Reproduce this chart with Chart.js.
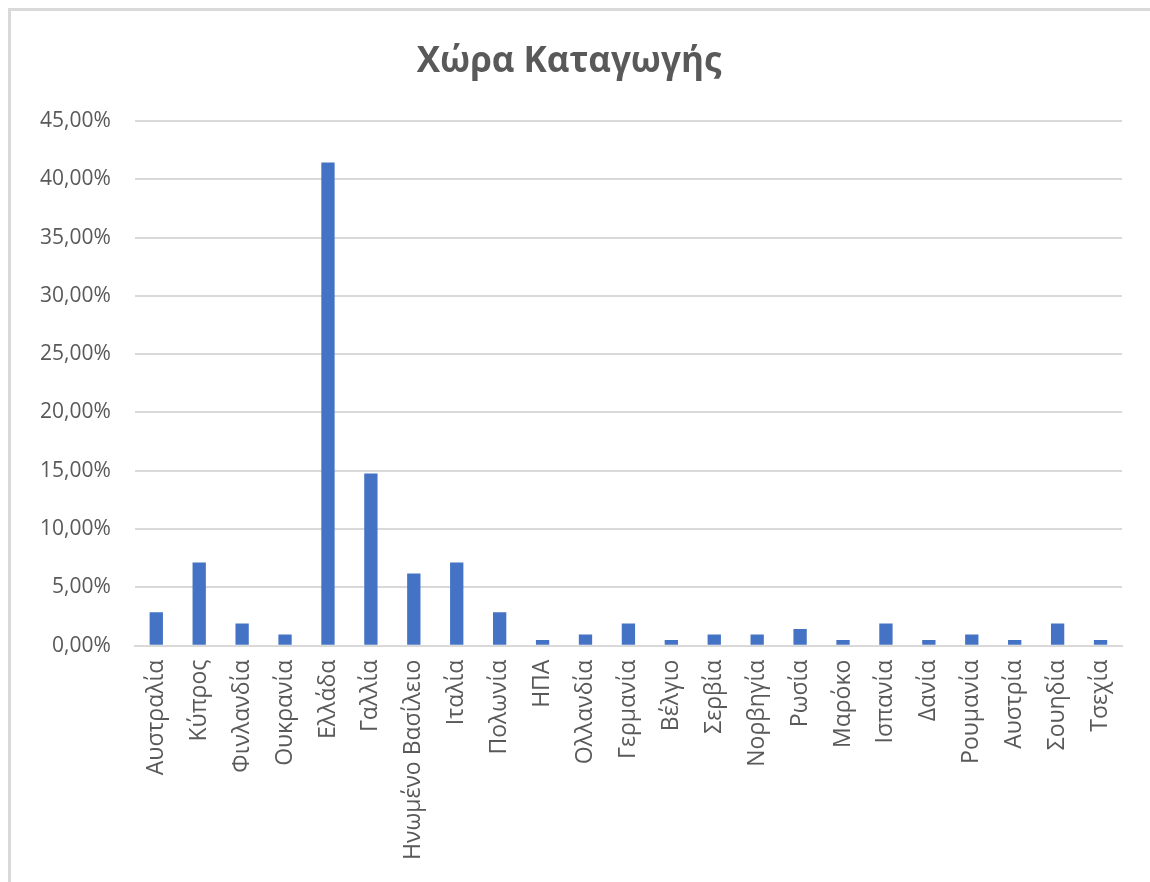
<!DOCTYPE html>
<html>
<head>
<meta charset="utf-8">
<script src="https://cdn.jsdelivr.net/npm/chart.js@4/dist/chart.umd.min.js"></script>
<style>
  html, body { margin: 0; padding: 0; background: #fff; }
  #frame {
    position: absolute; left: 8px; top: 8px; width: 1160px; height: 900px;
    border-left: 3px solid #d9d9d9; border-top: 3px solid #d9d9d9;
  }
  #wrap { position: absolute; left: 0; top: 0; width: 1150px; height: 882px; }
</style>
</head>
<body>
<div id="frame"></div>
<div id="wrap"><canvas id="chart"></canvas></div>
<script>
// Χώρα Καταγωγής – share of respondents by country of origin (%)
const countries = [
  "Αυστραλία", "Κύπρος", "Φινλανδία", "Ουκρανία", "Ελλάδα", "Γαλλία",
  "Ηνωμένο Βασίλειο", "Ιταλία", "Πολωνία", "ΗΠΑ", "Ολλανδία", "Γερμανία",
  "Βέλγιο", "Σερβία", "Νορβηγία", "Ρωσία", "Μαρόκο", "Ισπανία", "Δανία",
  "Ρουμανία", "Αυστρία", "Σουηδία", "Τσεχία"
]
const shares = [
  2.86, 7.14, 1.90, 0.95, 41.43, 14.76,
  6.19, 7.14, 2.86, 0.48, 0.95, 1.90,
  0.48, 0.95, 0.95, 1.43, 0.48, 1.90, 0.48,
  0.95, 0.48, 1.90, 0.48
]
const yTicks = [0, 5, 10, 15, 20, 25, 30, 35, 40, 45]

const TEXT = "#595959"
const GRID = "#d9d9d9"
const FONT = "'Open Sans', 'Noto Sans', sans-serif"

const fmtPct = v => v.toFixed(2).replace(".", ",") + "%"

new Chart(document.getElementById("chart"), {
  type: "bar",
  data: {
    labels: countries,
    datasets: [{
      data: shares,
      backgroundColor: "#4472c4",
      borderWidth: 0,
      categoryPercentage: 1,
      barPercentage: 0.31
    }]
  },
  options: {
    responsive: true,
    maintainAspectRatio: false,
    animation: false,
    layout: { padding: { left: 16, right: 28, top: 41, bottom: 16 } },
    plugins: {
      legend: { display: false },
      tooltip: { enabled: false },
      title: {
        display: true,
        text: "Χώρα Καταγωγής",
        color: TEXT,
        font: { family: FONT, size: 35, weight: "bold" },
        padding: { top: 0, bottom: 38 }
      }
    },
    scales: {
      x: {
        grid: { display: false },
        border: { color: GRID, width: 2 },
        ticks: {
          color: TEXT,
          font: { family: FONT, size: 23 },
          minRotation: 90,
          maxRotation: 90,
          autoSkip: false,
          padding: 6
        }
      },
      y: {
        min: 0,
        max: 45,
        afterBuildTicks: axis => { axis.ticks = yTicks.map(v => ({ value: v })) },
        grid: { color: GRID, lineWidth: 2, drawTicks: false },
        border: { display: false },
        ticks: {
          color: TEXT,
          font: { family: FONT, size: 21 },
          padding: 24,
          callback: v => fmtPct(v)
        }
      }
    }
  }
})
</script>
</body>
</html>
